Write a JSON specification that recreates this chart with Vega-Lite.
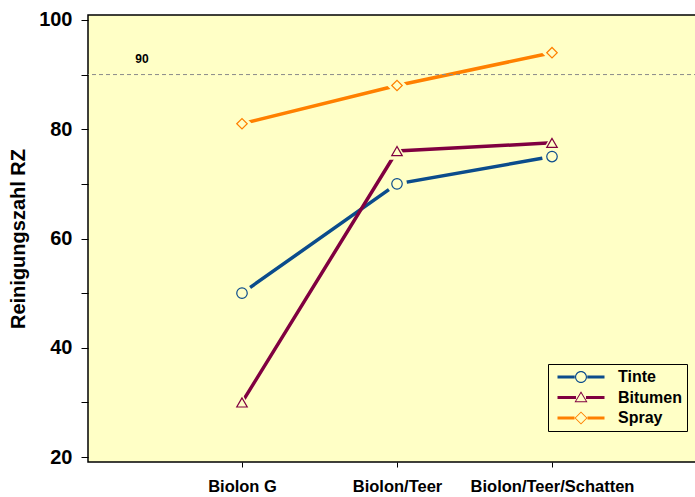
{
  "$schema": "https://vega.github.io/schema/vega-lite/v6.json",
  "width": 610,
  "height": 447,
  "autosize": {"type": "none"},
  "padding": {"left": 88, "top": 15, "right": 0, "bottom": 35},
  "background": "white",
  "config": {
    "font": "Liberation Sans",
    "view": {"stroke": "black", "strokeWidth": 1.5, "fill": "#FFFFC6"}
  },
  "datasets": {
    "main": [
      {"material": "Biolon G", "art": "Tinte", "rz": 50},
      {"material": "Biolon/Teer", "art": "Tinte", "rz": 70},
      {"material": "Biolon/Teer/Schatten", "art": "Tinte", "rz": 75},
      {"material": "Biolon G", "art": "Bitumen", "rz": 30},
      {"material": "Biolon/Teer", "art": "Bitumen", "rz": 76},
      {"material": "Biolon/Teer/Schatten", "art": "Bitumen", "rz": 77.5},
      {"material": "Biolon G", "art": "Spray", "rz": 81},
      {"material": "Biolon/Teer", "art": "Spray", "rz": 88},
      {"material": "Biolon/Teer/Schatten", "art": "Spray", "rz": 94}
    ],
    "ref": [{"ref": 90, "label": "90", "material": "Biolon G"}]
  },
  "layer": [
    {
      "data": {"name": "main"},
      "mark": {"type": "line", "strokeWidth": 3.5},
      "encoding": {
        "x": {
          "field": "material", "type": "nominal", "sort": null,
          "scale": {"type": "point", "domain": ["Biolon G", "Biolon/Teer", "Biolon/Teer/Schatten"], "range": [154, 464], "padding": 0},
          "axis": {"title": null, "domain": false, "tickColor": "black", "tickSize": 5, "labelAngle": 0, "labelFontSize": 16.5, "labelFontWeight": "bold", "labelColor": "black", "labelPadding": 11}
        },
        "y": {
          "field": "rz", "type": "quantitative",
          "scale": {"domain": [19.1, 100.9], "nice": false, "zero": false},
          "axis": {"title": "Reinigungszahl RZ", "values": [20, 30, 40, 50, 60, 70, 80, 90, 100], "labelExpr": "datum.value % 20 === 0 ? datum.label : ''", "grid": false, "domain": false, "tickColor": "black", "tickSize": 7, "labelFontSize": 20, "labelFontWeight": "bold", "labelColor": "black", "labelPadding": 9, "titleFontSize": 20, "titleFontWeight": "bold", "titleColor": "black", "titlePadding": 10}
        },
        "color": {
          "field": "art", "type": "nominal",
          "scale": {"domain": ["Tinte", "Bitumen", "Spray"], "range": ["#0B4C8C", "#800040", "#FF8000"]},
          "legend": {
            "title": null, "orient": "none", "legendX": 460, "legendY": 349,
            "fillColor": "#FFFFC6", "strokeColor": "black", "padding": 5,
            "symbolSize": 100, "symbolOffset": 20, "labelOffset": 29,
            "labelFontSize": 16, "labelFontWeight": "bold", "labelColor": "black",
            "rowPadding": 4.5,
            "encode": {
              "symbols": {
                "update": {
                  "shape": {"signal": "datum.value === 'Tinte' ? 'M-4.7,-0.3H-1.25V0.3H-4.7Z M1.25,-0.3H4.7V0.3H1.25Z M-1.2,0A1.2,1.2,0,1,0,1.2,0A1.2,1.2,0,1,0,-1.2,0Z M-0.97,0A0.97,0.97,0,1,1,0.97,0A0.97,0.97,0,1,1,-0.97,0Z' : datum.value === 'Bitumen' ? 'M-4.7,-0.3H-1.0V0.3H-4.7Z M1.0,-0.3H4.7V0.3H1.0Z M0,-1.25L1.3,0.95L-1.3,0.95Z M0,-0.85L-0.98,0.75L0.98,0.75Z' : 'M-4.7,-0.3H-1.3V0.3H-4.7Z M1.3,-0.3H4.7V0.3H1.3Z M0,-1.3L1.3,0L0,1.3L-1.3,0Z M0,-1.05L-1.05,0L0,1.05L1.05,0Z'"},
                  "fill": {"scale": "color", "field": "value"},
                  "stroke": {"value": "transparent"},
                  "strokeWidth": {"value": 0},
                  "opacity": {"value": 1}
                }
              }
            }
          }
        }
      }
    },
    {
      "data": {"name": "ref"},
      "mark": {"type": "rule", "color": "#8A8A8A", "strokeWidth": 1, "strokeDash": [4, 3]},
      "encoding": {
        "y": {"field": "ref", "type": "quantitative"}
      }
    },
    {
      "data": {"name": "ref"},
      "mark": {"type": "text", "fontSize": 12, "fontWeight": "bold", "color": "black", "dx": -100, "dy": -16, "align": "center", "baseline": "middle"},
      "encoding": {
        "x": {"field": "material", "type": "nominal"},
        "y": {"field": "ref", "type": "quantitative"},
        "text": {"field": "label"}
      }
    },
    {
      "data": {"name": "main"},
      "mark": {"type": "point", "filled": true, "fill": "#FFFFC6", "strokeWidth": 0, "size": 400, "opacity": 1},
      "encoding": {
        "x": {"field": "material", "type": "nominal", "sort": null},
        "y": {"field": "rz", "type": "quantitative"},
        "shape": {
          "condition": [
            {"test": "datum.art === 'Tinte'", "value": "circle"},
            {"test": "datum.art === 'Bitumen'", "value": "triangle-up"}
          ],
          "value": "diamond"
        }
      }
    },
    {
      "data": {"name": "main"},
      "mark": {"type": "point", "filled": false, "fill": "#FFFFC6", "fillOpacity": 1, "strokeWidth": 1.2, "size": 110, "opacity": 1},
      "encoding": {
        "x": {"field": "material", "type": "nominal", "sort": null},
        "y": {"field": "rz", "type": "quantitative"},
        "shape": {
          "condition": [
            {"test": "datum.art === 'Tinte'", "value": "circle"},
            {"test": "datum.art === 'Bitumen'", "value": "triangle-up"}
          ],
          "value": "diamond"
        },
        "color": {"field": "art", "type": "nominal"}
      }
    }
  ]
}
